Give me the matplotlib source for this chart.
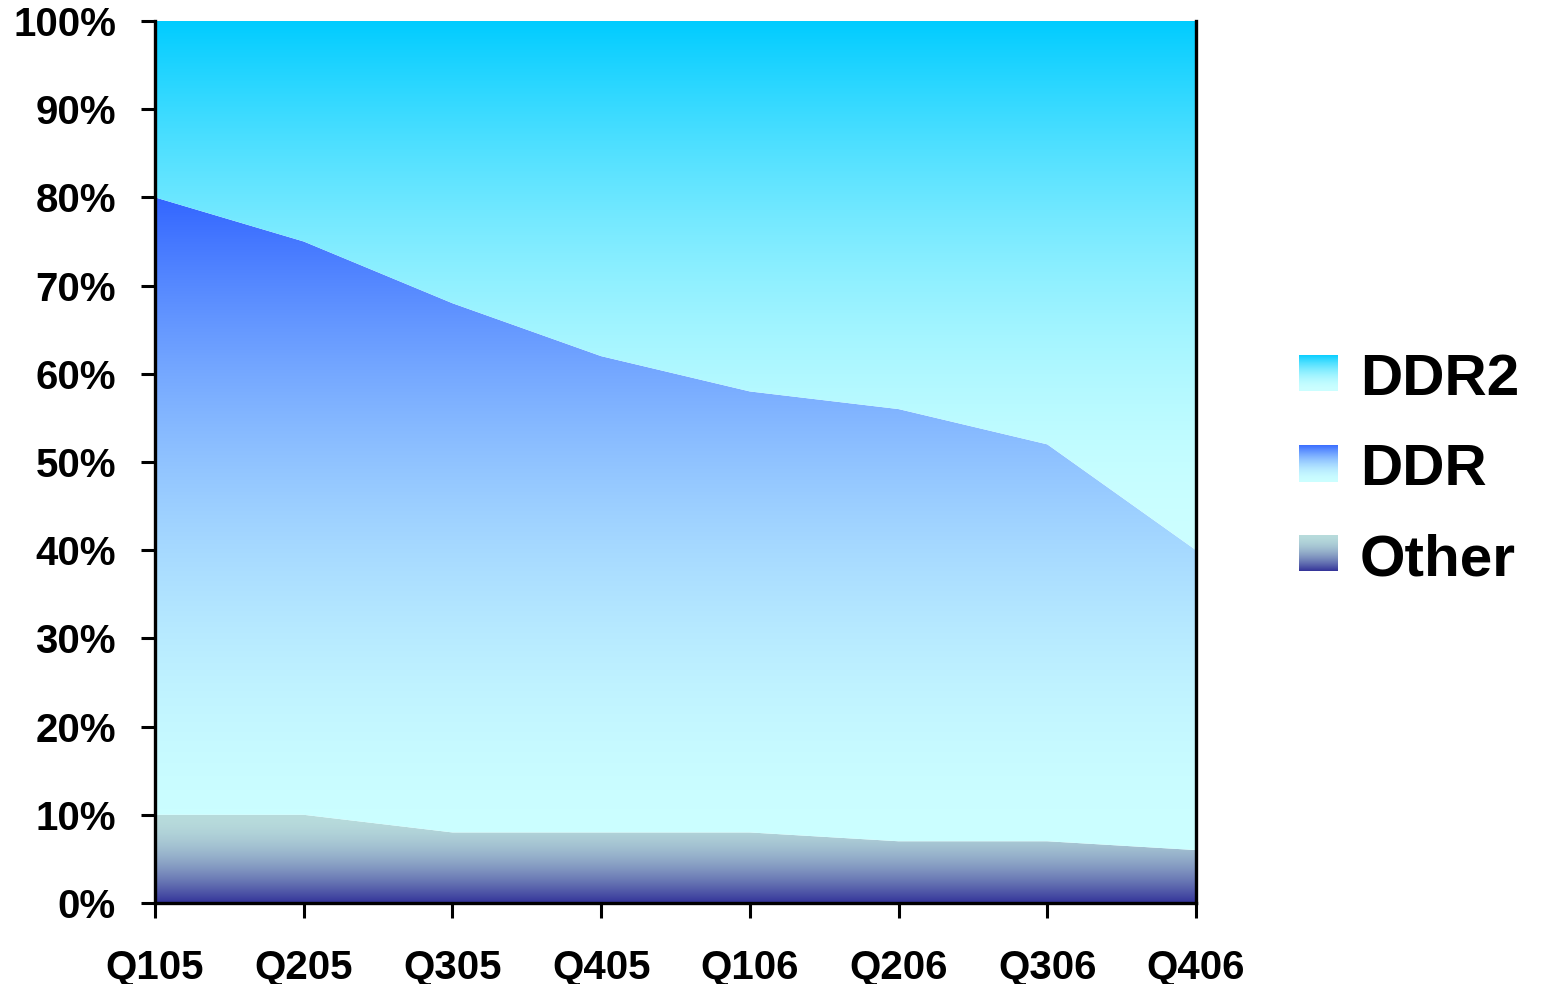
import numpy as np
import matplotlib
matplotlib.use("Agg")
import matplotlib.pyplot as plt
from matplotlib.colors import to_rgb

plt.rcParams['font.family'] = ['Liberation Sans', 'DejaVu Sans']
plt.rcParams['font.weight'] = 'bold'

quarters = ["Q105", "Q205", "Q305", "Q405", "Q106", "Q206", "Q306", "Q406"]
other = [10, 10, 8, 8, 8, 7, 7, 6]
ddr = [70, 65, 60, 54, 50, 49, 45, 34]
ddr2 = [20, 25, 32, 38, 42, 44, 48, 60]
series_names = ["Other", "DDR", "DDR2"]
series_values = [other, ddr, ddr2]
# gradient colours (bottom, top)
series_colors = [("#333399", "#b8dcdc"), ("#ccffff", "#3366ff"), ("#ccffff", "#00ccff")]
yticks = [0, 10, 20, 30, 40, 50, 60, 70, 80, 90, 100]


def gradient_image(cbottom, ctop, n=256, power=1.8):
    """Vertical gradient (row 0 = bottom) that approaches the lighter colour quickly."""
    cb, ct = np.array(to_rgb(cbottom)), np.array(to_rgb(ctop))
    s = np.linspace(0, 1, n)  # 0 at bottom
    if cb.sum() > ct.sum():   # light at bottom, dark at top
        dark, light, f = ct, cb, 1 - s
    else:
        dark, light, f = cb, ct, s
    mix = 1 - (1 - f) ** power
    img = dark[None, :] + mix[:, None] * (light - dark)[None, :]
    return img[:, None, :]


W, H = 1541, 984
fig = plt.figure(figsize=(W / 100, H / 100), dpi=100)
ax = fig.add_axes([155 / W, (H - 903) / H, (1196 - 155) / W, (903 - 21) / H])

x = np.arange(len(quarters))
lower = np.zeros(len(quarters))
for name, vals, (cb, ct) in zip(series_names, series_values, series_colors):
    upper = lower + np.array(vals, dtype=float)
    poly = ax.fill_between(x, lower, upper, facecolor="none", edgecolor="none")
    ymin, ymax = lower.min(), upper.max()
    im = ax.imshow(gradient_image(cb, ct), aspect="auto", origin="lower",
                   extent=[x[0], x[-1], ymin, ymax], interpolation="bilinear", zorder=1)
    im.set_clip_path(poly.get_paths()[0], transform=ax.transData)
    lower = upper

ax.set_xlim(x[0], x[-1])
ax.set_ylim(0, 100)
ax.set_xticks(x)
ax.set_xticklabels(quarters)
ax.set_yticks(yticks)
ax.set_yticklabels([f"{t}%" for t in yticks])
ax.tick_params(axis="both", labelsize=29, width=2.2, colors="black")
ax.tick_params(axis="y", length=10, pad=18)
ax.tick_params(axis="x", length=11, pad=22)
for lab in ax.get_xticklabels() + ax.get_yticklabels():
    lab.set_fontweight("bold")
ax.spines["top"].set_visible(False)
for s in ["left", "bottom", "right"]:
    ax.spines[s].set_linewidth(2.4)
    ax.spines[s].set_color("black")
    ax.spines[s].set_zorder(5)

# legend (top to bottom: DDR2, DDR, Other)
leg_y = [373, 463, 553]
for yc, name, (cb, ct) in zip(leg_y, series_names[::-1], series_colors[::-1]):
    lax = fig.add_axes([1299 / W, (H - yc - 18.5) / H, 39 / W, 37 / H])
    lax.imshow(gradient_image(cb, ct), aspect="auto", origin="lower", interpolation="bilinear")
    lax.axis("off")
    fig.text(1360 / W, (H - yc - 7) / H, name, fontsize=42, fontweight="bold",
             va="center", ha="left")

fig.savefig("out.png", dpi=100)
